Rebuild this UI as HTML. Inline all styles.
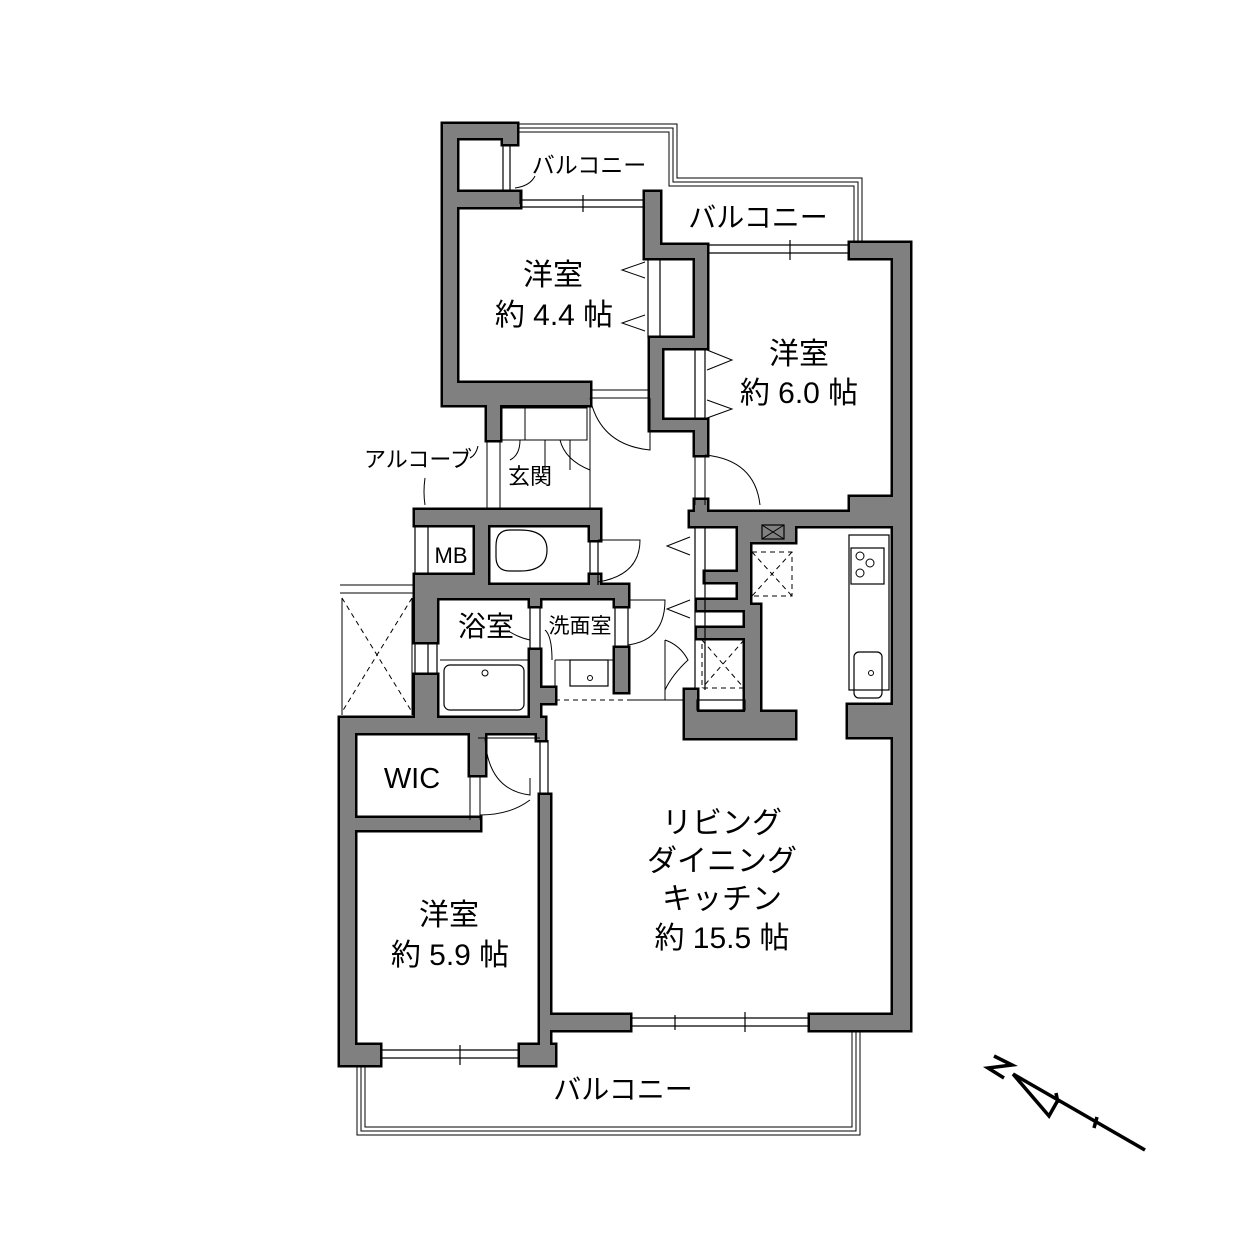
<!DOCTYPE html>
<html><head><meta charset="utf-8"><style>
html,body{margin:0;padding:0;background:#fff}
svg{display:block}
text{font-family:"Liberation Sans","Noto Sans CJK JP",sans-serif;fill:#000}
.l{fill:none;stroke:#000;stroke-width:1.2}
.t{fill:none;stroke:#000;stroke-width:1}
.d{fill:none;stroke:#000;stroke-width:1;stroke-dasharray:5 4}
</style></head><body>
<svg width="1252" height="1252" viewBox="0 0 1252 1252" xmlns="http://www.w3.org/2000/svg">
<defs>
<g id="W">
<rect x="443" y="124" width="74" height="14"/>
<rect x="503" y="124" width="14" height="20"/>
<rect x="443" y="124" width="14" height="281"/>
<rect x="443" y="192" width="77" height="15"/>
<rect x="443" y="383" width="147" height="22"/>
<rect x="487" y="400" width="13" height="40"/>
<rect x="645" y="192" width="15" height="66"/>
<rect x="645" y="245" width="62" height="13"/>
<rect x="695" y="245" width="12" height="100"/>
<rect x="650" y="338" width="57" height="10"/>
<rect x="650" y="338" width="12" height="92"/>
<rect x="650" y="420" width="57" height="10"/>
<rect x="695" y="420" width="12" height="35"/>
<rect x="695" y="500" width="12" height="12"/>
<rect x="850" y="243" width="60" height="15"/>
<rect x="893" y="243" width="17" height="787"/>
<rect x="850" y="497" width="43" height="15"/>
<rect x="690" y="512" width="203" height="14"/>
<rect x="848" y="705" width="45" height="32"/>
<rect x="810" y="1015" width="100" height="15"/>
<rect x="738" y="526" width="57" height="16"/>
<rect x="738" y="526" width="12" height="80"/>
<rect x="705" y="572" width="35" height="10"/>
<rect x="697" y="600" width="53" height="10"/>
<rect x="745" y="605" width="15" height="110"/>
<rect x="697" y="628" width="50" height="10"/>
<rect x="685" y="690" width="12" height="48"/>
<rect x="685" y="712" width="110" height="26"/>
<rect x="415" y="510" width="185" height="15"/>
<rect x="415" y="510" width="15" height="15"/>
<rect x="415" y="575" width="22" height="67"/>
<rect x="475" y="510" width="13" height="75"/>
<rect x="428" y="575" width="50" height="10"/>
<rect x="590" y="510" width="10" height="30"/>
<rect x="430" y="585" width="198" height="13"/>
<rect x="590" y="575" width="10" height="20"/>
<rect x="415" y="675" width="22" height="45"/>
<rect x="530" y="598" width="10" height="8"/>
<rect x="530" y="650" width="10" height="68"/>
<rect x="615" y="598" width="13" height="8"/>
<rect x="615" y="648" width="13" height="44"/>
<rect x="540" y="688" width="15" height="15"/>
<rect x="340" y="718" width="205" height="15"/>
<rect x="340" y="718" width="15" height="347"/>
<rect x="355" y="818" width="125" height="12"/>
<rect x="470" y="733" width="15" height="42"/>
<rect x="537" y="718" width="8" height="22"/>
<rect x="340" y="1045" width="40" height="20"/>
<rect x="520" y="1045" width="35" height="20"/>
<rect x="540" y="795" width="10" height="265"/>
<rect x="540" y="1015" width="90" height="15"/>
</g>
</defs>
<g class="t">
<path d="M517 124 H677 V178 H862 V243"/><path d="M517 128 H673 V182 H858 V243"/><path d="M517 132 H669 V186 H854 V243"/>
<path d="M357 1065 V1135 H860 V1030"/><path d="M361 1065 V1131 H856 V1030"/><path d="M365 1065 V1127 H852 V1030"/>
<path d="M340 585 H415 M340 593 H415"/>
</g>
<path class="d" d="M342 598 L412 712 M412 598 L342 712"/>
<line class="t" x1="342" y1="598" x2="342" y2="715"/><line class="t" x1="412" y1="598" x2="412" y2="715"/>
<use href="#W" fill="#000" stroke="#000" stroke-width="5"/>
<use href="#W" fill="#808080" stroke="none"/>
<rect class="l" x="697" y="700" width="48" height="10" fill="#fff"/>
<g class="l">
<path d="M520 192 V204 M520 200 H645 M520 207 H645 M583 195 V212"/>
<path d="M707 245 H850 M707 253 H850 M790 240 V260"/>
<path d="M630 1018 H810 M630 1026 H810 M675 1015 V1030 M745 1012 V1032"/>
<path d="M380 1050 H520 M380 1058 H520 M460 1045 V1065"/>
<path d="M503 144 V190 M510 144 V190"/>
<path d="M428 642 V675 M437 642 V675 M415 642 V675"/>
<path d="M540 740 V795 M548 740 V795"/>
<path d="M415 525 V575 M428 525 V575"/>
<path d="M695 526 V690 M705 526 V690"/>
<path d="M648 258 V338 M660 258 V338"/>
<path d="M695 348 V420 M705 348 V420"/>
<path d="M590 540 V575 M598 540 V585"/>
<path d="M530 606 V650 M540 606 V650 M615 606 V648 M628 606 V648"/>
</g>
<g class="t">
<path d="M590 390 H650 M590 398 H650"/><path d="M590 398 Q600 445 650 450 V398"/>
<path d="M695 455 V505 M705 455 V505 M705 455 Q755 460 760 505"/>
<path d="M487 440 V510 M500 440 V510 M590 405 V510 M500 408 H587 V440 H500 M525 408 V440 M545 440 V470 M570 440 V470 M560 440 Q565 460 590 470 M520 440 Q520 455 510 460"/>
<path d="M598 540 H640 Q640 575 598 582"/>
<path d="M628 600 H665 Q665 640 628 645"/>
<path d="M478 738 H540 M485 738 Q488 790 530 795 V778"/>
<path d="M470 775 V820 M480 775 V820 M480 815 Q510 815 530 800"/>
<path d="M665 640 V700 H685 M665 640 Q680 645 688 660 Q672 675 665 690"/>
<path d="M628 700 H685"/>
<path d="M440 660 H530 M555 660 H615 M555 660 V688"/>
</g>
<path class="d" d="M555 700 H628"/>
<g class="t" stroke-width="1.8">
<path d="M645 262 L622 270 L645 278 M645 315 L622 323 L645 331"/>
<path d="M707 350 L732 360 L707 370 M707 400 L732 409 L707 418"/>
<path d="M690 537 L667 546 L690 555 M690 600 L667 609 L690 618"/>
</g>
<rect class="l" x="444" y="665" width="80" height="45" rx="6"/><circle class="t" cx="485" cy="673" r="3"/>
<rect class="l" x="570" y="660" width="38" height="26"/><circle class="t" cx="590" cy="678" r="2.5"/>
<path class="l" d="M520 530 H510 Q496 530 496 546 V557 Q496 571 510 571 H520 Q547 571 547 550 Q547 530 520 530 Z"/>
<rect class="l" x="849" y="535" width="40" height="155"/>
<rect class="l" x="851" y="548" width="33" height="36"/>
<circle class="t" cx="860" cy="556" r="4"/><circle class="t" cx="870" cy="563" r="4"/><circle class="t" cx="860" cy="573" r="4"/>
<rect class="l" x="854" y="652" width="28" height="46" rx="5"/><circle class="t" cx="871" cy="673" r="2.5"/>
<rect class="d" x="752" y="552" width="40" height="44"/><path class="d" d="M752 552 L792 596 M792 552 L752 596"/>
<rect class="d" x="702" y="640" width="42" height="48"/><path class="d" d="M702 640 L744 688 M744 640 L702 688"/>
<rect class="l" x="762" y="525" width="22" height="14" fill="#fff"/><path class="t" d="M762 525 L784 539 M784 525 L762 539"/>
<g font-size="30">
<text x="553" y="285" text-anchor="middle">洋室</text>
<text x="554" y="325" text-anchor="middle">約 4.4 帖</text>
<text x="799" y="364" text-anchor="middle">洋室</text>
<text x="799" y="403" text-anchor="middle">約 6.0 帖</text>
<text x="449" y="925" text-anchor="middle">洋室</text>
<text x="450" y="965" text-anchor="middle">約 5.9 帖</text>
<text x="722" y="833" text-anchor="middle">リビング</text>
<text x="722" y="871" text-anchor="middle">ダイニング</text>
<text x="722" y="909" text-anchor="middle">キッチン</text>
<text x="722" y="948" text-anchor="middle">約 15.5 帖</text>
<text x="623" y="1099" text-anchor="middle" font-size="28">バルコニー</text>
<text x="758" y="227" text-anchor="middle" font-size="28">バルコニー</text>
<text x="589" y="173" text-anchor="middle" font-size="23">バルコニー</text>
<text x="418" y="467" text-anchor="middle" font-size="22">アルコーブ</text>
<text x="530" y="484" text-anchor="middle" font-size="22">玄関</text>
<text x="451" y="563" text-anchor="middle" font-size="22">MB</text>
<text x="486" y="636" text-anchor="middle" font-size="28">浴室</text>
<text x="580" y="633" text-anchor="middle" font-size="21">洗面室</text>
<text x="412" y="788" text-anchor="middle" font-size="29">WIC</text>
</g>
<path class="t" d="M535 176 Q530 186 515 188 M478 446 Q476 455 470 458 M425 478 Q423 492 425 505 M510 632 Q520 638 530 640 M545 630 Q552 636 552 660"/>
<g stroke="#000" stroke-width="3.5" fill="none">
<path d="M1013 1074 L1145 1150"/>
<path d="M1013 1074 L1049 1116 L1058 1100"/>
<path d="M1056 1093 L1058 1103 M1097 1117 L1094 1128"/>
<path d="M994 1056 L1012 1065 L988 1068 L1004 1078"/>
</g>
</svg>
</body></html>
